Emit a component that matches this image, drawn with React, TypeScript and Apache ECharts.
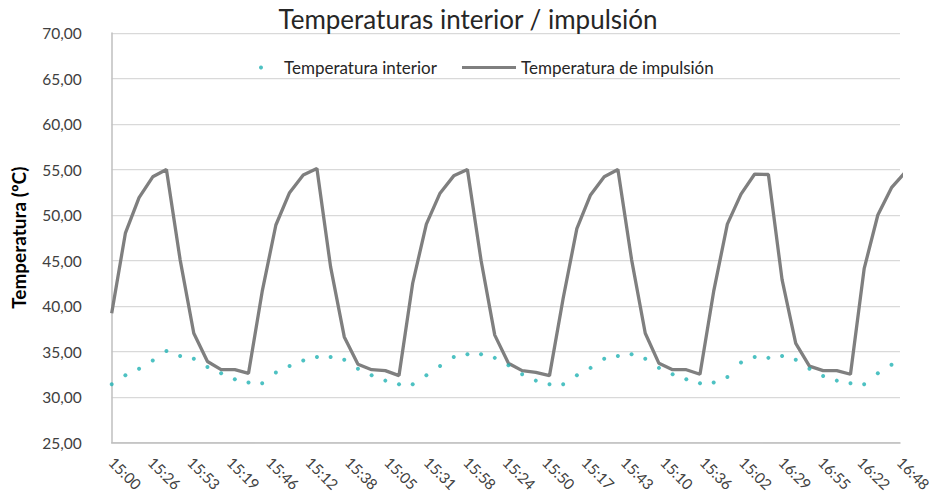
import React, { useEffect, useRef } from 'react';
import * as echarts from 'echarts';

// Tick labels along the time axis (one every few samples)
const timeLabels = [
  '15:00', '15:26', '15:53', '15:19', '15:46', '15:12', '15:38', '15:05', '15:31', '15:58',
  '15:24', '15:50', '15:17', '15:43', '15:10', '15:36', '15:02', '16:29', '16:55', '16:22', '16:48',
];

// Indoor temperature samples (ºC)
const interiorTemp = [
  31.4, 32.4, 33.1, 34.0, 35.05, 34.5, 34.2, 33.3, 32.6, 31.95, 31.6, 31.5,
  32.7, 33.4, 34.0, 34.4, 34.4, 34.1, 33.1, 32.4, 31.8, 31.4, 31.4,
  32.4, 33.4, 34.4, 34.7, 34.7, 34.3, 33.5, 32.5, 31.8, 31.4, 31.4,
  32.4,
  33.2, 34.2, 34.5, 34.7, 34.2, 33.2, 32.5, 31.95, 31.5, 31.6, 32.2,
  33.8, 34.4, 34.3, 34.5, 34.1, 33.1, 32.3, 31.8, 31.5, 31.4, 32.6, 33.55,
];

// Supply (impulsión) temperature samples (ºC)
const supplyTemp = [
  39.2, 48.0, 51.9, 54.2, 55.0, 45.1, 37.0, 33.9, 33.0, 33.0, 32.6, 41.6,
  48.9, 52.45, 54.4, 55.1, 44.3, 36.6, 33.6, 33.0, 32.9, 32.35, 42.5,
  49.0, 52.4, 54.3, 55.0, 45.0, 36.8, 33.7, 32.9, 32.7, 32.35, 40.85, 48.5,
  52.2, 54.2, 55.0, 45.1, 37.0, 33.7, 33.0, 33.0, 32.5, 41.6, 49.0, 52.3,
  54.5, 54.45, 42.9, 35.9, 33.4, 32.9, 32.9, 32.5, 44.1, 50.0, 53.0, 54.7,
];

const SERIES_INTERIOR = 'Temperatura interior';
const SERIES_SUPPLY = 'Temperatura de impulsión';

// Number of samples between two consecutive time labels
const SAMPLES_PER_LABEL = 2.881;
const X_MAX = 57.62;

const FONT = 'Lato, "Open Sans", "Noto Sans", sans-serif';

export default function App() {
  const ref = useRef<HTMLDivElement>(null);

  useEffect(() => {
    if (!ref.current) return;
    const chart = echarts.init(ref.current, null, { renderer: 'svg' });

    chart.setOption({
      animation: false,
      backgroundColor: '#ffffff',
      textStyle: { fontFamily: FONT },
      title: {
        text: 'Temperaturas interior / impulsión',
        left: 'center',
        top: 1,
        textStyle: { fontFamily: FONT, fontSize: 26, fontWeight: 'normal', color: '#262626' },
      },
      legend: [
        {
          data: [{ name: SERIES_INTERIOR, icon: 'circle' }],
          left: 254,
          top: 54,
          itemWidth: 36,
          itemHeight: 4,
          textStyle: { fontFamily: FONT, fontSize: 17, color: '#262626' },
        },
        {
          data: [{ name: SERIES_SUPPLY, icon: 'rect' }],
          left: 457,
          top: 54,
          itemWidth: 54,
          itemHeight: 3,
          itemStyle: { color: '#7f7f7f' },
          textStyle: { fontFamily: FONT, fontSize: 17, color: '#262626' },
        },
      ],
      grid: { left: 111.7, right: 36, top: 33, bottom: 61.5, containLabel: false },
      xAxis: {
        type: 'value',
        min: 0,
        max: X_MAX,
        interval: SAMPLES_PER_LABEL,
        axisLine: { show: true, lineStyle: { color: '#bfbfbf', width: 1.5 } },
        axisTick: { show: false },
        splitLine: { show: false },
        axisLabel: {
          rotate: -45,
          margin: 17,
          fontFamily: FONT,
          fontSize: 15,
          color: '#404040',
          formatter: (v: number) => timeLabels[Math.round(v / SAMPLES_PER_LABEL)] ?? '',
        },
      },
      yAxis: {
        type: 'value',
        min: 25,
        max: 70,
        interval: 5,
        name: 'Temperatura (ºC)',
        nameLocation: 'middle',
        nameGap: 84,
        nameTextStyle: { fontFamily: FONT, fontSize: 19, fontWeight: 'bold', color: '#000000' },
        axisLine: { show: true, lineStyle: { color: '#bfbfbf', width: 1.5 } },
        axisTick: { show: false },
        splitLine: { show: true, lineStyle: { color: '#d9d9d9', width: 1.25 } },
        axisLabel: {
          margin: 30,
          fontFamily: FONT,
          fontSize: 15.5,
          color: '#404040',
          formatter: (v: number) => v.toFixed(2).replace('.', ','),
        },
      },
      series: [
        {
          name: SERIES_INTERIOR,
          type: 'scatter',
          symbol: 'circle',
          symbolSize: 4,
          itemStyle: { color: '#21b1b3' },
          data: interiorTemp.map((v, i) => [i, v]),
          z: 3,
        },
        {
          name: SERIES_SUPPLY,
          type: 'line',
          showSymbol: false,
          symbol: 'none',
          clip: true,
          lineStyle: { color: '#7f7f7f', width: 3.3 },
          itemStyle: { color: '#7f7f7f' },
          data: supplyTemp.map((v, i) => [i, v]),
          z: 2,
        },
      ],
    });

    return () => chart.dispose();
  }, []);

  return (
    <div
      ref={ref}
      style={{ position: 'fixed', left: 0, top: 0, width: 936, height: 504 }}
    />
  );
}
